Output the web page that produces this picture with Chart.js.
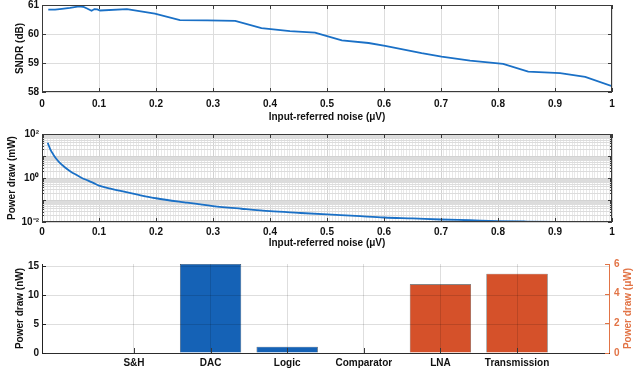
<!DOCTYPE html>
<html><head><meta charset="utf-8">
<script src="https://cdn.jsdelivr.net/npm/chart.js@4"></script>
<style>
html,body{margin:0;padding:0;background:#fff;}
body{width:633px;height:379px;position:relative;overflow:hidden;}
.box{position:absolute;left:0;width:633px;}
</style></head><body>
<div class="box" style="top:0;height:125px"><canvas id="c1"></canvas></div>
<div class="box" style="top:125px;height:125px"><canvas id="c2"></canvas></div>
<div class="box" style="top:250px;height:129px"><canvas id="c3"></canvas></div>
<script>
// ---------- data ----------
const sndrNoise  = [0.011,0.023,0.035,0.049,0.065,0.072,0.079,0.087,0.092,0.097,0.102,0.149,0.198,0.242,0.29,0.339,0.385,0.435,0.479,0.494,0.526,0.573,0.602,0.666,0.701,0.751,0.809,0.853,0.909,0.953,1.0];
const sndrValues = [60.84,60.84,60.87,60.90,60.95,60.94,60.88,60.80,60.86,60.85,60.81,60.86,60.70,60.48,60.47,60.45,60.20,60.10,60.05,59.96,59.78,59.69,59.59,59.34,59.22,59.08,58.97,58.70,58.65,58.52,58.20];

const powerNoise  = [0.01,0.015,0.02,0.025,0.03,0.04,0.05,0.06,0.07,0.08,0.09,0.1,0.12,0.14,0.17,0.2,0.25,0.3,0.35,0.4,0.45,0.5,0.55,0.6,0.65,0.7,0.75,0.8,0.85,0.9,0.95,1.0];
const powerValues = [40,19,11.5,7.5,5.3,3.1,2.0,1.4,1.0,0.78,0.6,0.45,0.33,0.25,0.17,0.12,0.078,0.053,0.04,0.031,0.026,0.022,0.019,0.016,0.0145,0.013,0.012,0.011,0.0105,0.0102,0.0101,0.0100];

const noiseTicks      = [0,0.1,0.2,0.3,0.4,0.5,0.6,0.7,0.8,0.9,1];
const noiseTickLabels = ['0','0.1','0.2','0.3','0.4','0.5','0.6','0.7','0.8','0.9','1'];
const sndrTicks       = [58,59,60,61];
const powerDecades    = [-2,-1,0,1,2];
const powerDecadeLabels = {'-2':'10\u207B\u00B2','0':'10\u2070','2':'10\u00B2'};

const blocks   = ['S&H','DAC','Logic','Comparator','LNA','Transmission'];
const blockNW  = [0, 15.4, 1.1, 0.08, null, null];
const blockUW  = [null, null, null, null, 4.63, 5.35];
const nwTicks  = [0,5,10,15];
const uwTicks  = [0,2,4,6];

// ---------- style ----------
const BLUE_LINE = '#1a70c6';
const BLUE_BAR  = '#1562b6';
const ORANGE    = '#d5512a';
const ORANGE_AX = '#e27446';
const GRID      = '#dddddd';
const GRID_MIN  = '#e6e6e6';
const AXIS      = '#3a3a3a';

Chart.defaults.font.family = '"Liberation Sans", Arial, Helvetica, sans-serif';
Chart.defaults.font.size = 10;
Chart.defaults.font.weight = 'bold';
Chart.defaults.color = '#111';

const isMajor01 = v => Math.abs(v*10 - Math.round(v*10)) < 1e-6;
const isDecade = v => Math.abs(Math.log10(v) - Math.round(Math.log10(v))) < 1e-9;

// inward ticks / box / custom titles
const matlabPlugin = {
  id: 'matlab',
  afterDraw(chart, args, opts) {
    const ctx = chart.ctx, a = chart.chartArea;
    ctx.save();
    if (opts.box) {
      ctx.strokeStyle = AXIS; ctx.lineWidth = 1;
      ctx.strokeRect(Math.round(a.left)+0.5, Math.round(a.top)+0.5, Math.round(a.right)-Math.round(a.left)-1, Math.round(a.bottom)-Math.round(a.top)-1);
    }
    (opts.sets || []).forEach(set => {
      const sc = chart.scales[set.scale];
      ctx.strokeStyle = set.color || AXIS; ctx.lineWidth = 1;
      ctx.beginPath();
      set.values.forEach(v => {
        const p = Math.round(sc.getPixelForValue(v)) + 0.5;
        set.sides.forEach(side => {
          if (side === 'bottom') { ctx.moveTo(p, a.bottom); ctx.lineTo(p, a.bottom - set.len); }
          if (side === 'top')    { ctx.moveTo(p, a.top);    ctx.lineTo(p, a.top + set.len); }
          if (side === 'left')   { ctx.moveTo(a.left, p);   ctx.lineTo(a.left + set.len, p); }
          if (side === 'right')  { ctx.moveTo(a.right, p);  ctx.lineTo(a.right - set.len, p); }
        });
      });
      ctx.stroke();
    });
    if (opts.rightTitle) {
      const t = opts.rightTitle;
      ctx.fillStyle = t.color;
      ctx.font = 'bold 10px "Liberation Sans", Arial, sans-serif';
      ctx.textAlign = 'center'; ctx.textBaseline = 'middle';
      ctx.translate(t.x, (a.top + a.bottom) / 2);
      ctx.rotate(-Math.PI / 2);
      ctx.fillText(t.text, 0, 0);
    }
    ctx.restore();
  }
};

const base = {animation:false, responsive:true, maintainAspectRatio:false, events:[]};

// ---------- chart 1: SNDR ----------
new Chart(document.getElementById('c1'), {
  type: 'line',
  data: {datasets: [{
    data: sndrNoise.map((x,i) => ({x, y: sndrValues[i]})),
    borderColor: BLUE_LINE, borderWidth: 1.8, pointRadius: 0, tension: 0, fill: false
  }]},
  options: Object.assign({}, base, {
    layout: {padding: {top: 5, right: 21, left: 0, bottom: 0}},
    plugins: {legend:{display:false}, tooltip:{enabled:false},
      matlab: {box: true, sets: [
        {scale:'x', values: noiseTicks, sides:['bottom','top'], len:4},
        {scale:'y', values: sndrTicks, sides:['left','right'], len:4}
      ]}},
    scales: {
      x: {type:'linear', min:0, max:1,
        afterBuildTicks: s => { s.ticks = noiseTicks.map(v => ({value:v})); },
        afterFit: s => { s.height = 33; s.paddingLeft = 0; s.paddingRight = 0; },
        grid: {color: GRID, drawTicks:false}, border: {display:false},
        ticks: {padding:6, autoSkip:false, maxRotation:0, minRotation:0, callback: (v,i) => noiseTickLabels[i]},
        title: {display:true, text:'Input-referred noise (\u03BCV)', padding:{top:0, bottom:2}}
      },
      y: {min:58, max:61,
        afterBuildTicks: s => { s.ticks = sndrTicks.map(v => ({value:v})); },
        afterFit: s => { s.width = 42; s.paddingTop = 0; s.paddingBottom = 0; },
        grid: {color: GRID, drawTicks:false}, border: {display:false},
        ticks: {padding:3, callback: v => String(v)},
        title: {display:true, text:'SNDR (dB)', padding:{top:14, bottom:0}}
      }
    }
  }),
  plugins: [matlabPlugin]
});

// ---------- chart 2: power (log) ----------
const xMinor = []; for (let i = 0; i <= 200; i++) xMinor.push(i/200);
const yLogTicks = [];
powerDecades.forEach(k => { const m = k < 2 ? 9 : 1; for (let j = 1; j <= m; j++) yLogTicks.push(j * Math.pow(10, k)); });
const yMinorTicks = yLogTicks.filter(v => !isDecade(v));
const yDecadeVals = powerDecades.map(k => Math.pow(10, k));

new Chart(document.getElementById('c2'), {
  type: 'line',
  data: {datasets: [{
    data: powerNoise.map((x,i) => ({x, y: powerValues[i]})),
    borderColor: BLUE_LINE, borderWidth: 1.8, pointRadius: 0, cubicInterpolationMode: 'monotone', fill: false
  }]},
  options: Object.assign({}, base, {
    layout: {padding: {top: 9, right: 21, left: 0, bottom: 0}},
    plugins: {legend:{display:false}, tooltip:{enabled:false},
      matlab: {box: true, sets: [
        {scale:'x', values: noiseTicks, sides:['bottom','top'], len:4},
        {scale:'y', values: yDecadeVals, sides:['left','right'], len:4},
        {scale:'y', values: yMinorTicks, sides:['left','right'], len:2}
      ]}},
    scales: {
      x: {type:'linear', min:0, max:1,
        afterBuildTicks: s => { s.ticks = xMinor.map(v => ({value:v})); },
        afterFit: s => { s.height = 28; s.paddingLeft = 0; s.paddingRight = 0; },
        grid: {color: c => isMajor01(c.tick.value) ? '#d2d2d2' : '#e9e9e9', drawTicks:false}, border: {display:false},
        ticks: {padding:4, autoSkip:false, maxRotation:0, minRotation:0,
          callback: v => { if (!isMajor01(v)) return ''; const i = Math.round(v*10); return noiseTickLabels[i]; }},
        title: {display:true, text:'Input-referred noise (\u03BCV)', padding:{top:0, bottom:1}}
      },
      y: {type:'logarithmic', min:0.01, max:100,
        afterBuildTicks: s => { s.ticks = yLogTicks.map(v => ({value:v})); },
        afterFit: s => { s.width = 42; s.paddingTop = 0; s.paddingBottom = 0; },
        grid: {color: c => isDecade(c.tick.value) ? '#d2d2d2' : '#dcdcdc', drawTicks:false}, border: {display:false},
        ticks: {padding:3, autoSkip:false,
          callback: v => { if (!isDecade(v)) return ''; const k = Math.round(Math.log10(v)); return powerDecadeLabels[String(k)] || ''; }},
        title: {display:true, text:'Power draw (mW)', padding:{top:6, bottom:0}}
      }
    }
  }),
  plugins: [matlabPlugin]
});

// ---------- chart 3: bars ----------
const blockPos = blocks.map((b,i) => i + 1);
new Chart(document.getElementById('c3'), {
  type: 'bar',
  data: {datasets: [
    {data: blockPos.map((x,i) => ({x, y: blockNW[i]})).filter(d => d.y !== null),
     yAxisID:'y', backgroundColor: BLUE_BAR, borderColor:'#2a2a2a', borderWidth:0.6,
     grouped:false, barPercentage:0.8, categoryPercentage:1},
    {data: blockPos.map((x,i) => ({x, y: blockUW[i]})).filter(d => d.y !== null),
     yAxisID:'y2', backgroundColor: ORANGE, borderColor:'#2a2a2a', borderWidth:0.6,
     grouped:false, barPercentage:0.8, categoryPercentage:1}
  ]},
  options: Object.assign({}, base, {
    layout: {padding: {top: 14, right: 0, left: 0, bottom: 0}},
    plugins: {legend:{display:false}, tooltip:{enabled:false},
      matlab: {box: false, sets: [
        {scale:'x', values: blockPos, sides:['bottom'], len:5},
        {scale:'y', values: nwTicks, sides:['left'], len:4, color:'#222'},
        {scale:'y2', values: uwTicks, sides:['right'], len:4, color: ORANGE_AX}
      ], rightTitle: {text:'Power draw (\u03BCW)', color: ORANGE_AX, x: 628}}},
    scales: {
      x: {type:'linear', min:-0.2, max:7.2, offset:false,
        afterBuildTicks: s => { s.ticks = blockPos.map(v => ({value:v})); },
        afterFit: s => { s.height = 26; s.paddingLeft = 0; s.paddingRight = 0; },
        grid: {color:'rgba(0,0,0,0.13)', drawTicks:false, offset:false, z:1},
        border: {display:true, color:'#333', width:1, z:1},
        ticks: {padding:4, autoSkip:false, maxRotation:0, minRotation:0, callback: (v,i) => blocks[i]}
      },
      y: {min:0, max:15.4, position:'left',
        afterBuildTicks: s => { s.ticks = nwTicks.map(v => ({value:v})); },
        afterFit: s => { s.width = 42; s.paddingTop = 0; s.paddingBottom = 0; },
        grid: {color:'rgba(0,0,0,0.13)', drawTicks:false, z:1},
        border: {display:true, color:'#222', width:1, z:1},
        ticks: {padding:3, callback: v => String(v)},
        title: {display:true, text:'Power draw (nW)', padding:{top:14, bottom:0}}
      },
      y2: {min:0, max:6, position:'right',
        afterBuildTicks: s => { s.ticks = uwTicks.map(v => ({value:v})); },
        afterFit: s => { s.width = 24; s.paddingTop = 0; s.paddingBottom = 0; },
        grid: {drawOnChartArea:false, drawTicks:false},
        border: {display:true, color: ORANGE_AX, width:1},
        ticks: {padding:5, color: ORANGE_AX, callback: v => String(v)}
      }
    }
  }),
  plugins: [matlabPlugin]
});
</script>
</body></html>
